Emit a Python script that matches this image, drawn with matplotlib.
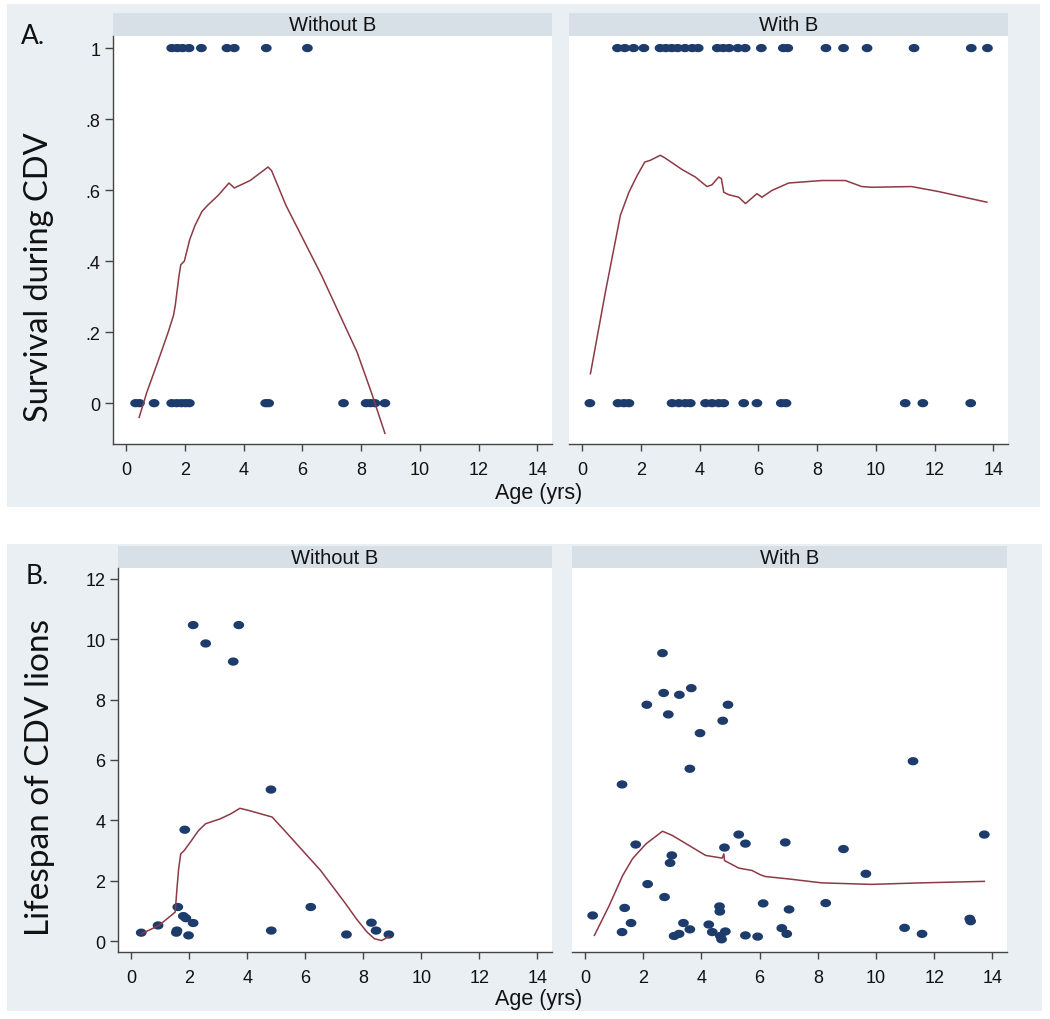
import matplotlib
matplotlib.use("Agg")
import matplotlib.pyplot as plt
from matplotlib.patches import Rectangle
from matplotlib.path import Path
import numpy as np

# ---------------- data ----------------
# Panel A: survival during CDV (1 = survived, 0 = died), by age
wo_age_survived = [1.55, 1.74, 1.92, 2.14, 2.56, 3.43, 3.68, 4.77, 6.17]
wo_age_died = [0.32, 0.45, 0.95, 1.55, 1.72, 1.88, 2.02, 2.15, 4.75, 4.85,
               7.40, 8.17, 8.32, 8.47, 8.81]
wb_age_survived = [1.20, 1.45, 1.75, 2.10, 2.65, 2.85, 3.05, 3.25, 3.50, 3.75,
                   3.95, 4.60, 4.80, 5.00, 5.30, 5.55, 6.10, 6.85, 7.00, 8.30,
                   8.90, 9.70, 11.30, 13.25, 13.80]
wb_age_died = [0.26, 1.22, 1.42, 1.59, 3.06, 3.29, 3.51, 3.68, 4.20, 4.42,
               4.65, 4.82, 5.50, 5.95, 6.78, 6.94, 11.00, 11.60, 13.23]

# Panel A smoothed (lowess) curves
wo_surv_fit_x = [0.44, 0.70, 1.07, 1.43, 1.61, 1.67, 1.80, 1.86, 1.98, 2.16,
                 2.34, 2.58, 2.77, 3.13, 3.50, 3.68, 4.22, 4.83, 4.95, 5.44,
                 6.65, 7.86, 8.35, 8.81]
wo_surv_fit_y = [-0.040, 0.030, 0.115, 0.200, 0.247, 0.275, 0.360, 0.390, 0.400,
                 0.460, 0.500, 0.540, 0.557, 0.585, 0.620, 0.606, 0.627, 0.665,
                 0.655, 0.557, 0.360, 0.144, 0.030, -0.085]
wb_surv_fit_x = [0.28, 0.79, 1.30, 1.59, 1.87, 2.13, 2.32, 2.66, 2.83, 3.40,
                 3.85, 4.25, 4.42, 4.65, 4.74, 4.82, 4.99, 5.33, 5.56, 5.95,
                 6.12, 6.46, 7.03, 8.16, 8.96, 9.52, 9.86, 11.22, 12.13, 13.78]
wb_surv_fit_y = [0.083, 0.313, 0.529, 0.594, 0.641, 0.679, 0.684, 0.698, 0.690,
                 0.658, 0.637, 0.610, 0.615, 0.637, 0.632, 0.594, 0.587, 0.580,
                 0.562, 0.590, 0.580, 0.599, 0.620, 0.627, 0.627, 0.610, 0.608,
                 0.610, 0.596, 0.566]

# Panel B: lifespan of CDV lions (yrs) by age
wo_life_age = [0.35, 0.93, 1.56, 1.58, 1.61, 1.80, 1.89, 1.98, 2.14, 1.85,
               2.14, 2.57, 3.52, 3.71, 4.82, 4.83, 6.19, 7.42, 8.28, 8.44, 8.88]
wo_life_span = [0.28, 0.52, 0.28, 0.35, 1.13, 0.83, 0.76, 0.19, 0.60, 3.69,
                10.47, 9.86, 9.26, 10.47, 5.02, 0.35, 1.13, 0.22, 0.61, 0.35, 0.22]
wb_life_age = [0.26, 1.27, 1.27, 1.36, 1.58, 1.74, 2.12, 2.15, 2.66, 2.70,
               2.86, 2.73, 2.92, 2.98, 3.06, 3.23, 3.24, 3.38, 3.60, 3.60,
               3.65, 3.95, 4.25, 4.37, 4.62, 4.63, 4.65, 4.69, 4.73, 4.79,
               4.82, 4.91, 5.28, 5.51, 5.51, 5.93, 6.12, 6.76, 6.88, 6.93,
               7.01, 8.27, 8.88, 9.65, 10.98, 11.27, 11.58, 13.22, 13.25, 13.72]
wb_life_span = [0.85, 5.19, 0.30, 1.10, 0.60, 3.20, 7.83, 1.89, 9.54, 8.22,
                7.51, 1.46, 2.59, 2.84, 0.17, 0.24, 8.16, 0.60, 0.39, 5.71,
                8.38, 6.89, 0.55, 0.30, 1.15, 0.98, 0.17, 0.06, 7.30, 3.10,
                0.32, 7.83, 3.53, 3.23, 0.19, 0.15, 1.25, 0.43, 3.27, 0.24,
                1.05, 1.26, 3.05, 2.23, 0.44, 5.96, 0.24, 0.74, 0.66, 3.53]

# Panel B smoothed curves
wo_life_fit_x = [0.35, 0.96, 1.52, 1.58, 1.64, 1.71, 1.83, 2.08, 2.32, 2.57,
                 3.07, 3.44, 3.75, 4.05, 4.86, 5.29, 6.53, 7.39, 7.76, 8.13,
                 8.38, 8.63, 8.88]
wo_life_fit_y = [0.24, 0.52, 0.96, 1.73, 2.40, 2.89, 3.00, 3.33, 3.66, 3.89,
                 4.05, 4.22, 4.40, 4.33, 4.11, 3.66, 2.34, 1.24, 0.74, 0.30,
                 0.08, 0.02, 0.15]
wb_life_fit_x = [0.32, 0.83, 1.29, 1.63, 2.09, 2.66, 3.00, 3.57, 4.14, 4.71,
                 4.77, 4.79, 5.28, 5.74, 6.02, 6.19, 7.00, 8.13, 9.84, 11.55, 13.72]
wb_life_fit_y = [0.19, 1.18, 2.17, 2.73, 3.22, 3.64, 3.50, 3.17, 2.84, 2.75,
                 2.89, 2.67, 2.42, 2.34, 2.20, 2.14, 2.06, 1.93, 1.88, 1.93, 1.98]

x_ticks = [0, 2, 4, 6, 8, 10, 12, 14]
a_yticks = [0, 0.2, 0.4, 0.6, 0.8, 1.0]
a_yticklabels = ["0", ".2", ".4", ".6", ".8", "1"]
b_yticks = [0, 2, 4, 6, 8, 10, 12]
b_yticklabels = ["0", "2", "4", "6", "8", "10", "12"]
strip_titles = ["Without B", "With B"]

# ---------------- style ----------------
W, H = 1050, 1020
BG = "#e9eff3"
STRIP = "#d7e0e7"
DOT = "#1d3c6b"
LINE = "#8c3a45"
AXC = "#444444"
TICKFONT = "Liberation Sans"
LABFONT = "Lato"

# slightly wide elliptical dot, as in the reference
_t = np.linspace(0, 2 * np.pi, 40)
DOT_MARKER = Path(np.column_stack([1.3 * np.cos(_t), np.sin(_t)]), closed=True)
DOT_S = 60

fig = plt.figure(figsize=(W / 100, H / 100), dpi=100)
fig.patch.set_facecolor("white")


def rect(x0, y0, x1, y1, color, z):
    fig.patches.append(Rectangle((x0 / W, 1 - y1 / H), (x1 - x0) / W, (y1 - y0) / H,
                                 transform=fig.transFigure, facecolor=color,
                                 edgecolor="none", zorder=z))


def axes_px(x0, y0, x1, y1):
    return fig.add_axes([x0 / W, 1 - y1 / H, (x1 - x0) / W, (y1 - y0) / H])


# backgrounds
rect(7, 5, 1040, 508, BG, -3)
rect(7, 545, 1042, 1012, BG, -3)

panels = [
    ((113, 37, 552, 445), (113, 14, 552, 37), 0, True, "A"),
    ((569, 37, 1008, 445), (569, 14, 1008, 37), 1, False, "A"),
    ((118, 569, 552, 953), (118, 547, 552, 569), 0, True, "B"),
    ((572, 569, 1007, 953), (572, 547, 1007, 569), 1, False, "B"),
]

for (ab, sb, idx, showy, which) in panels:
    rect(*sb, STRIP, -2)
    fig.text((sb[0] + sb[2]) / 2 / W, 1 - ((sb[1] + sb[3]) / 2) / H, strip_titles[idx],
             ha="center", va="center", fontsize=14.5, family=TICKFONT, color="#111111")
    ax = axes_px(*ab)
    ax.set_facecolor("white")
    if which == "A":
        if idx == 0:
            xs1, xs0, fx_, fy_ = wo_age_survived, wo_age_died, wo_surv_fit_x, wo_surv_fit_y
        else:
            xs1, xs0, fx_, fy_ = wb_age_survived, wb_age_died, wb_surv_fit_x, wb_surv_fit_y
        ax.scatter(xs1, np.ones(len(xs1)), s=DOT_S, marker=DOT_MARKER, color=DOT,
                   edgecolors="none", zorder=3)
        ax.scatter(xs0, np.zeros(len(xs0)), s=DOT_S, marker=DOT_MARKER, color=DOT,
                   edgecolors="none", zorder=3)
        ax.plot(fx_, fy_, color=LINE, lw=1.1, zorder=4)
        ax.set_ylim(-0.115, 1.034)
        yt, ytl = a_yticks, a_yticklabels
    else:
        if idx == 0:
            px, py, fx_, fy_ = wo_life_age, wo_life_span, wo_life_fit_x, wo_life_fit_y
        else:
            px, py, fx_, fy_ = wb_life_age, wb_life_span, wb_life_fit_x, wb_life_fit_y
        ax.scatter(px, py, s=DOT_S, marker=DOT_MARKER, color=DOT, edgecolors="none",
                   zorder=3)
        ax.plot(fx_, fy_, color=LINE, lw=1.1, zorder=4)
        ax.set_ylim(-0.36, 12.36)
        yt, ytl = b_yticks, b_yticklabels
    ax.set_xlim(-0.45, 14.5)
    for s in ["top", "right"]:
        ax.spines[s].set_visible(False)
    ax.spines["bottom"].set_color(AXC)
    ax.spines["bottom"].set_linewidth(1.0)
    ax.spines["left"].set_color(AXC)
    ax.spines["left"].set_linewidth(1.0)
    ax.spines["left"].set_visible(showy)
    ax.set_xticks(x_ticks)
    ax.set_xticklabels([str(t) for t in x_ticks], family=TICKFONT, fontsize=13)
    ax.tick_params(axis="x", length=5, width=1, color=AXC, pad=7, labelcolor="#111111")
    if showy:
        ax.set_yticks(yt)
        ax.set_yticklabels(ytl, family=TICKFONT, fontsize=13)
        ax.tick_params(axis="y", length=6, width=1, color=AXC, pad=3, labelcolor="#111111")
    else:
        ax.set_yticks(yt)
        ax.tick_params(axis="y", left=False, labelleft=False)

# axis titles and panel letters
fig.text(539 / W, 1 - 493 / H, "Age (yrs)", ha="center", va="center",
         fontsize=15.5, family=TICKFONT, color="#111111")
fig.text(539 / W, 1 - 1000 / H, "Age (yrs)", ha="center", va="center",
         fontsize=15.5, family=TICKFONT, color="#111111")
fig.text(39 / W, 1 - 277 / H, "Survival during CDV", rotation=90, ha="center",
         va="center", fontsize=23.5, family=LABFONT, color="#111111")
fig.text(40 / W, 1 - 778 / H, "Lifespan of CDV lions", rotation=90, ha="center",
         va="center", fontsize=24, family=LABFONT, color="#111111")
fig.text(21 / W, 1 - 37 / H, "A.", ha="left", va="center", fontsize=19,
         family=LABFONT, color="#111111")
fig.text(26 / W, 1 - 577 / H, "B.", ha="left", va="center", fontsize=19,
         family=LABFONT, color="#111111")

fig.savefig("out.png", dpi=100, facecolor="white")
